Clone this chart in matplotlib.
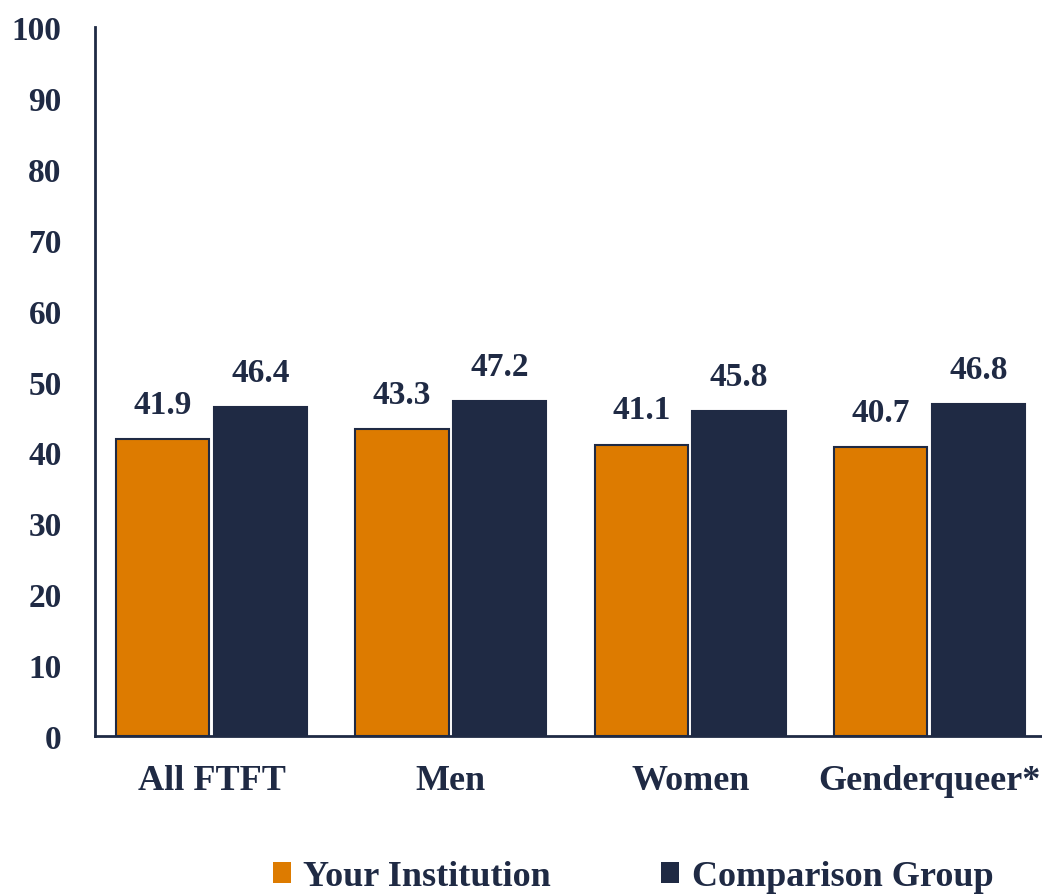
import numpy as np
import matplotlib
matplotlib.use('Agg')
import matplotlib.pyplot as plt
from matplotlib.patches import Patch

categories  = ['All FTFT', 'Men', 'Women', 'Genderqueer*']
institution = [41.9, 43.3, 41.1, 40.7]
comparison  = [46.4, 47.2, 45.8, 46.8]
series_names = ['Your Institution', 'Comparison Group']
yticks = [0, 10, 20, 30, 40, 50, 60, 70, 80, 90, 100]

ORANGE = '#DD7B00'
NAVY   = '#1F2A44'

plt.rcParams['font.family'] = ['Liberation Serif', 'DejaVu Serif']
plt.rcParams['font.weight'] = 'bold'

fig = plt.figure(figsize=(10.42, 8.95), dpi=100)
ax = fig.add_axes([0.0912, 0.1765, 0.9088, 0.7922])

x = np.arange(len(categories))
w = 0.39
off = 0.204
b1 = ax.bar(x - off, institution, w, color=ORANGE, edgecolor=NAVY, linewidth=1.5)
b2 = ax.bar(x + off, comparison, w, color=NAVY, edgecolor=NAVY, linewidth=1.5)

for bars, vals in ((b1, institution), (b2, comparison)):
    for r, v in zip(bars, vals):
        ax.annotate('%.1f' % v, (r.get_x() + r.get_width() / 2, v),
                    xytext=(0, 14), textcoords='offset points',
                    ha='center', va='bottom', fontsize=24, color=NAVY,
                    fontweight='bold')

ax.set_xlim(-0.487, 3.47)
ax.set_ylim(0, 100)
ax.set_yticks(yticks)
ax.set_xticks(x)
ax.set_xticklabels(categories)
ax.tick_params(axis='both', length=0, labelsize=24, colors=NAVY)
ax.tick_params(axis='x', pad=20, labelsize=26)
ax.tick_params(axis='y', pad=24)

for s in ('top', 'right'):
    ax.spines[s].set_visible(False)
for s in ('left', 'bottom'):
    ax.spines[s].set_color(NAVY)
    ax.spines[s].set_linewidth(2)

# legend below the plot, slightly right of centre like the original
handles = [Patch(facecolor=ORANGE, edgecolor='none'),
           Patch(facecolor=NAVY, edgecolor='none')]
leg = fig.legend(handles=handles, labels=series_names, loc='center',
                 bbox_to_anchor=(633 / 1042, 1 - 878 / 895), ncol=2,
                 frameon=False, fontsize=26, handlelength=0.5, handleheight=0.5,
                 handletextpad=0.35, columnspacing=3.05)
for t in leg.get_texts():
    t.set_color(NAVY)

fig.savefig('out.png', dpi=100)
